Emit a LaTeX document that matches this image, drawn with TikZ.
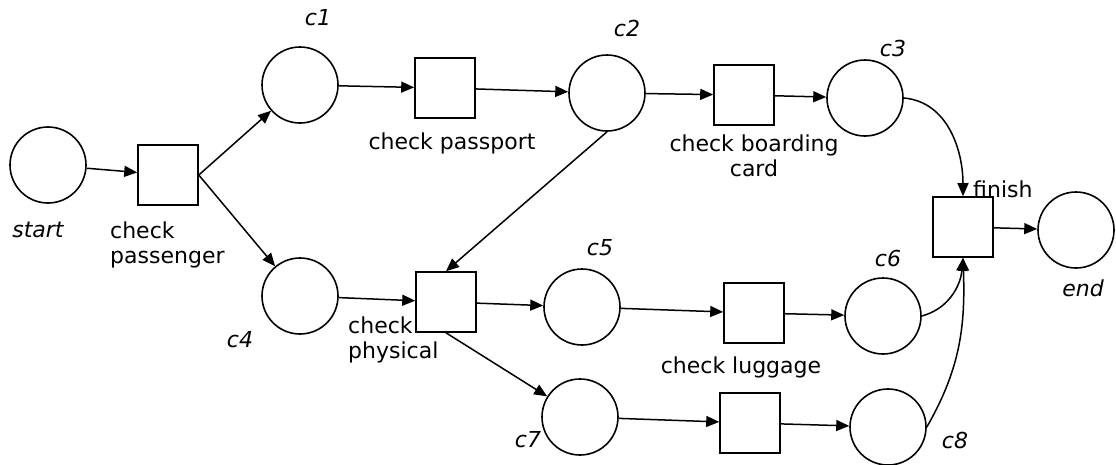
\documentclass[tikz,border=0pt]{standalone}
\usepackage{fontspec}
\setmainfont{DejaVu Sans}
\usetikzlibrary{arrows.meta}
\begin{document}
\begin{tikzpicture}[x=1pt,y=-1pt,
  place/.style={draw,circle,line width=1.6pt,minimum size=76pt,inner sep=0pt},
  trans/.style={draw,rectangle,line width=1.6pt,minimum size=60pt,inner sep=0pt},
  lbl/.style={font=\fontsize{22}{25}\selectfont,inner sep=0pt,align=center},
  plbl/.style={font=\fontsize{22}{25}\selectfont\itshape,inner sep=0pt},
  arc/.style={line width=1.5pt,-{Triangle[length=13pt,width=11pt]}}]
\useasboundingbox (0,0) rectangle (1116,464);
% places
\node[place] (start) at (48,165) {};
\node[place] (c1) at (300,85) {};
\node[place] (c2) at (607,93) {};
\node[place] (c3) at (865,98) {};
\node[place] (c4) at (300,296) {};
\node[place] (c5) at (582,307) {};
\node[place] (c6) at (883,316) {};
\node[place] (c7) at (580,417) {};
\node[place] (c8) at (888,427) {};
\node[place] (end) at (1076,230) {};
% transitions
\node[trans] (cpa) at (168,175) {};
\node[trans] (cps) at (445,88) {};
\node[trans] (cbc) at (744,95) {};
\node[trans] (cph) at (446,302) {};
\node[trans] (clu) at (754,313) {};
\node[trans] (t7) at (750,423) {};
\node[trans] (fin) at (963,227) {};
% place labels
\node[plbl] (lc1) at (318,18) {c1};
\node[plbl] (lc2) at (627,28) {c2};
\node[plbl] (lc3) at (893,48) {c3};
\node[plbl] (lc4) at (240,340) {c4};
\node[plbl] (lc5) at (600,248) {c5};
\node[plbl] (lc6) at (888,258) {c6};
\node[plbl] (lc7) at (528,440) {c7};
\node[plbl] (lc8) at (955,440) {c8};
\node[plbl] (lstart) at (38,230) {start};
\node[plbl] (lend) at (1083,288) {end};
% transition labels
\node[lbl,align=left,anchor=north west] (lcpa) at (110,222) {check\\passenger};
\node[lbl] (lcps) at (452,143) {check passport};
\node[lbl] (lcbc) at (754,156) {check boarding\\card};
\node[lbl,align=left,anchor=north west] (lcph) at (348,317) {check\\physical};
\node[lbl] (lclu) at (741,367) {check luggage};
\node[lbl,anchor=south west] (lfin) at (973,198) {finish};
% arcs
\draw[arc] (start) -- (cpa);
\draw[arc] (cpa.east) -- (c1);
\draw[arc] (cpa.east) -- (c4);
\draw[arc] (c1) -- (cps);
\draw[arc] (cps) -- (c2);
\draw[arc] (c2) -- (cbc);
\draw[arc] (cbc) -- (c3);
\draw[arc] (c3.east) to[out=-5,in=90] (fin.north);
\draw[arc] (c2.south) -- (cph.north);
\draw[arc] (c4) -- (cph);
\draw[arc] (cph) -- (c5);
\draw[arc] (cph.south) -- (c7);
\draw[arc] (c5) -- (clu);
\draw[arc] (clu) -- (c6);
\draw[arc] (c7) -- (t7);
\draw[arc] (t7) -- (c8);
\draw[arc] (c6.east) to[out=15,in=-95] (fin.south);
\draw[arc] (c8.east) to[out=60,in=-88] (fin.south);
\draw[arc] (fin) -- (end);
\end{tikzpicture}
\end{document}
